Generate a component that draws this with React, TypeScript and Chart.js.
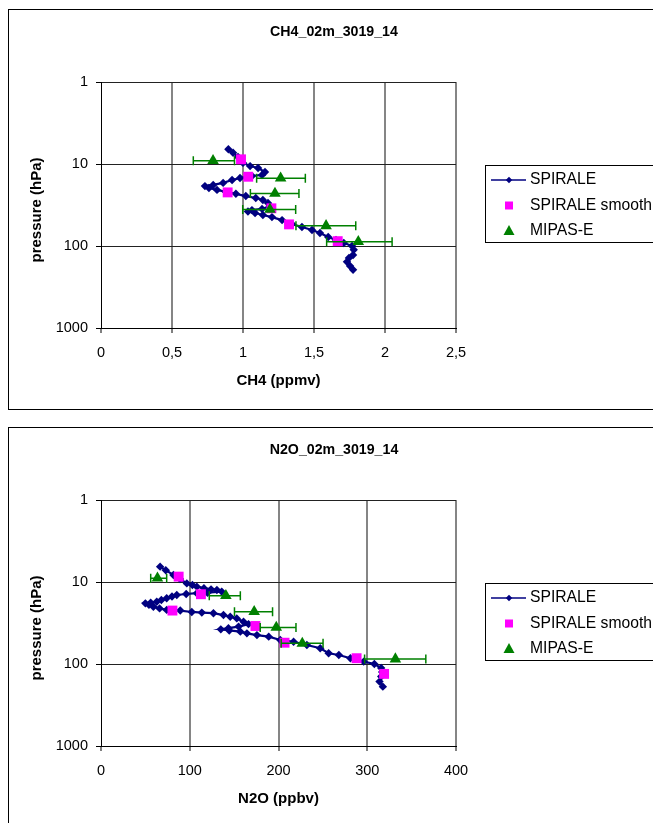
import React, { useEffect, useRef } from 'react';
import { Chart, registerables } from 'chart.js';

Chart.register(...registerables);

const FONT = '"Liberation Sans", Arial, Helvetica, sans-serif';

// ---------- CH4 panel ----------
const ch4SpiraleX = [0.897, 0.93, 0.965, 1.0, 1.05, 1.106, 1.155, 1.134, 1.063, 0.979, 0.923, 0.86, 0.79, 0.732, 0.76, 0.817, 0.88, 0.95, 1.02, 1.09, 1.14, 1.176, 1.19, 1.134, 1.063, 1.035, 1.085, 1.14, 1.204, 1.275, 1.345, 1.415, 1.486, 1.542, 1.6, 1.655, 1.71, 1.768, 1.78, 1.775, 1.746, 1.732, 1.754, 1.775];
const ch4SpiraleP = [6.6, 7.3, 8.2, 9.7, 10.6, 11.2, 12.5, 13.6, 14.0, 14.8, 15.7, 17.0, 18.0, 18.6, 19.6, 20.7, 21.9, 23.1, 24.6, 26.0, 27.5, 29.9, 32.5, 35.3, 36.5, 38.0, 39.6, 41.9, 44.4, 48.3, 54.1, 58.7, 63.7, 69.4, 77.6, 84.4, 91.9, 100, 111, 129, 140, 156, 175, 195];
const ch4SmoothX = [0.986, 1.037, 0.892, 1.2, 1.324, 1.667];
const ch4SmoothP = [8.77, 14.3, 22.2, 34.7, 54.5, 87.3];
const ch4MipasX = [0.789, 1.265, 1.225, 1.19, 1.585, 1.812];
const ch4MipasP = [9.1, 14.9, 22.9, 35.8, 56.7, 88.8];
const ch4MipasLow = [0.65, 1.096, 1.052, 0.998, 1.373, 1.589];
const ch4MipasHigh = [0.94, 1.439, 1.394, 1.371, 1.794, 2.05];
const ch4Ticks = [0, 0.5, 1, 1.5, 2, 2.5];

// ---------- N2O panel ----------
const n2oSpiraleX = [66.6, 73, 81.6, 89, 96.7, 103, 108, 116, 124, 130.6, 136, 120, 108, 96, 85.4, 80, 74, 68, 62.8, 56, 50, 54, 59, 66, 74, 89.3, 102.3, 113.6, 126.7, 138, 145.6, 153, 160.6, 166.2, 155, 143.6, 135, 144.5, 157, 164.4, 175.7, 189, 202, 217, 232, 247, 256.5, 268, 281, 296, 308, 315.7, 316.8, 315.7, 313.8, 317.6];
const n2oSpiraleP = [6.5, 7.2, 8.2, 9.2, 10.4, 10.9, 11.4, 11.9, 12.3, 12.5, 13.1, 13.5, 13.7, 14.0, 14.4, 15.0, 15.8, 16.6, 17.4, 17.9, 18.2, 19.0, 20.0, 21.0, 21.9, 22.3, 23.2, 23.6, 24.0, 25.3, 26.5, 27.8, 30.5, 32.6, 35.0, 36.6, 37.8, 39.0, 40.3, 42.3, 44.4, 46.4, 50.9, 53.5, 58.7, 64.2, 74, 77.6, 85, 93.5, 100, 112, 125, 142, 164, 189];
const n2oSmoothX = [87.5, 112.6, 80.5, 174, 206.8, 288, 319];
const n2oSmoothP = [8.6, 14.1, 22.3, 34.4, 55, 85, 132];
const n2oMipasX = [63.6, 140.7, 172.6, 197.5, 226.8, 331.7];
const n2oMipasP = [9.0, 14.7, 23, 35.8, 56, 87];
const n2oMipasLow = [56, 122, 150.4, 179.4, 203, 297];
const n2oMipasHigh = [74, 157, 193.3, 219.7, 250.2, 366];
const n2oTicks = [0, 100, 200, 300, 400];

const pressureTicks = [1, 10, 100, 1000];
const yTitle = 'pressure (hPa)';
const legendLabels = ['SPIRALE', 'SPIRALE smooth', 'MIPAS-E'];

const NAVY = '#000080';
const MAGENTA = '#FF00FF';
const GREEN = '#008000';

type PanelProps = {
  title: string;
  xTitle: string;
  xTicks: number[];
  sx: number[];
  sp: number[];
  smx: number[];
  smp: number[];
  mx: number[];
  mp: number[];
  mlo: number[];
  mhi: number[];
  top: number;
};

const pts = (xs: number[], ps: number[]) => xs.map((x, i) => ({ x, y: ps[i] }));

function Panel(props: PanelProps) {
  const ref = useRef<HTMLCanvasElement>(null);
  useEffect(() => {
    const canvas = ref.current;
    if (!canvas) return;
    const { title, xTitle, xTicks, sx, sp, smx, smp, mx, mp, mlo, mhi } = props;

    const errPlugin = {
      id: 'errbars',
      afterDatasetDraw(chart: any, args: any) {
        if (args.index !== 1) return;
        const ctx = chart.ctx;
        const xs = chart.scales.x;
        const ys = chart.scales.y;
        ctx.save();
        ctx.strokeStyle = GREEN;
        ctx.lineWidth = 1.5;
        for (let i = 0; i < mp.length; i++) {
          const y = ys.getPixelForValue(mp[i]);
          const x1 = xs.getPixelForValue(mlo[i]);
          const x2 = xs.getPixelForValue(mhi[i]);
          ctx.beginPath();
          ctx.moveTo(x1, y);
          ctx.lineTo(x2, y);
          ctx.moveTo(x1, y - 4.5);
          ctx.lineTo(x1, y + 4.5);
          ctx.moveTo(x2, y - 4.5);
          ctx.lineTo(x2, y + 4.5);
          ctx.stroke();
        }
        ctx.restore();
      },
    };

    const decoPlugin = {
      id: 'deco',
      afterDraw(chart: any) {
        const ctx = chart.ctx;
        const area = chart.chartArea;
        ctx.save();
        ctx.fillStyle = '#000';
        ctx.font = `bold 14.2px ${FONT}`;
        ctx.textAlign = 'center';
        ctx.textBaseline = 'middle';
        ctx.fillText(title, 325, 22);

        // axis titles
        ctx.font = `bold 15px ${FONT}`;
        ctx.fillText(xTitle, (area.left + area.right) / 2, 371);
        ctx.save();
        ctx.translate(28, 200);
        ctx.rotate(-Math.PI / 2);
        ctx.fillText(yTitle, 0, 0);
        ctx.restore();

        // legend box
        ctx.strokeStyle = '#000';
        ctx.lineWidth = 1;
        ctx.strokeRect(476.5, 155.5, 300, 77);
        const rows = [170, 195.5, 221];
        const mxp = 500;
        // SPIRALE line + diamond
        ctx.strokeStyle = NAVY;
        ctx.lineWidth = 1.5;
        ctx.beginPath();
        ctx.moveTo(482, rows[0]);
        ctx.lineTo(517, rows[0]);
        ctx.stroke();
        ctx.fillStyle = NAVY;
        ctx.beginPath();
        ctx.moveTo(mxp, rows[0] - 3.2);
        ctx.lineTo(mxp + 3.2, rows[0]);
        ctx.lineTo(mxp, rows[0] + 3.2);
        ctx.lineTo(mxp - 3.2, rows[0]);
        ctx.closePath();
        ctx.fill();
        // square
        ctx.fillStyle = MAGENTA;
        ctx.fillRect(mxp - 4, rows[1] - 4, 8, 8);
        // triangle
        ctx.fillStyle = GREEN;
        ctx.beginPath();
        ctx.moveTo(mxp, rows[2] - 6);
        ctx.lineTo(mxp + 5.5, rows[2] + 4);
        ctx.lineTo(mxp - 5.5, rows[2] + 4);
        ctx.closePath();
        ctx.fill();

        ctx.fillStyle = '#000';
        ctx.font = `15.7px ${FONT}`;
        ctx.textAlign = 'left';
        legendLabels.forEach((l, i) => ctx.fillText(l, 521, rows[i]));
        ctx.restore();
      },
    };

    const chart = new Chart(canvas, {
      type: 'scatter',
      data: {
        datasets: [
          {
            label: legendLabels[0],
            data: pts(sx, sp),
            showLine: true,
            borderColor: NAVY,
            backgroundColor: NAVY,
            borderWidth: 2.2,
            pointStyle: 'rectRot',
            pointRadius: 4.2,
            pointBorderWidth: 0,
            order: 3,
          },
          {
            label: legendLabels[1],
            data: pts(smx, smp),
            showLine: false,
            borderColor: MAGENTA,
            backgroundColor: MAGENTA,
            pointStyle: 'rect',
            pointRadius: 7,
            pointBorderWidth: 0,
            order: 2,
          },
          {
            label: legendLabels[2],
            data: pts(mx, mp),
            showLine: false,
            borderColor: GREEN,
            backgroundColor: GREEN,
            pointStyle: 'triangle',
            pointRadius: 6.7,
            pointBorderWidth: 0,
            order: 1,
          },
        ],
      } as any,
      options: {
        animation: false,
        responsive: false,
        events: [],
        layout: { padding: { left: 0, top: 72, right: 197, bottom: 0 } },
        plugins: {
          legend: { display: false },
          title: { display: false },
          tooltip: { enabled: false },
        },
        scales: {
          x: {
            type: 'linear',
            min: xTicks[0],
            max: xTicks[xTicks.length - 1],
            afterBuildTicks: (s: any) => {
              s.ticks = xTicks.map((v) => ({ value: v }));
            },
            afterFit: (s: any) => {
              s.height = 80;
            },
            grid: {
              color: (c: any) => (c.tick && c.tick.value === xTicks[0] ? 'rgba(0,0,0,0)' : '#858585'),
              lineWidth: 2,
              tickColor: '#000',
              tickLength: 5,
              tickWidth: 1,
              z: -1,
            },
            border: { color: '#000', width: 1 },
            ticks: {
              font: { family: FONT, size: 14.5 },
              color: '#000',
              padding: 11,
              maxRotation: 0,
              autoSkip: false,
              callback: (v: any) => String(v).replace('.', ','),
            },
            title: { display: false },
          },
          y: {
            type: 'logarithmic',
            reverse: true,
            min: 1,
            max: 1000,
            afterBuildTicks: (s: any) => {
              s.ticks = pressureTicks.map((v) => ({ value: v }));
            },
            afterFit: (s: any) => {
              s.width = 92;
            },
            grid: {
              color: '#222',
              lineWidth: 1,
              tickColor: '#000',
              tickLength: 5,
              tickWidth: 1,
              z: -1,
            },
            border: { color: '#000', width: 1 },
            ticks: {
              font: { family: FONT, size: 14.5 },
              color: '#000',
              padding: 8,
              autoSkip: false,
              callback: (v: any) => String(v),
            },
            title: { display: false },
          },
        },
      } as any,
      plugins: [errPlugin, decoPlugin],
    });
    return () => chart.destroy();
  }, []);

  return (
    <div
      style={{
        position: 'absolute',
        left: 8,
        top: props.top,
        width: 700,
        height: 401,
        border: '1px solid #000',
        boxSizing: 'border-box',
        background: '#fff',
      }}
    >
      <canvas
        ref={ref}
        width={644}
        height={398}
        style={{ position: 'absolute', left: 0, top: 0, width: 644, height: 398, display: 'block' }}
      />
    </div>
  );
}

export default function App() {
  return (
    <div
      style={{
        position: 'fixed',
        left: 0,
        top: 0,
        width: 653,
        height: 823,
        overflow: 'hidden',
        background: '#fff',
      }}
    >
      <Panel
        title="CH4_02m_3019_14"
        xTitle="CH4 (ppmv)"
        xTicks={ch4Ticks}
        sx={ch4SpiraleX}
        sp={ch4SpiraleP}
        smx={ch4SmoothX}
        smp={ch4SmoothP}
        mx={ch4MipasX}
        mp={ch4MipasP}
        mlo={ch4MipasLow}
        mhi={ch4MipasHigh}
        top={9}
      />
      <Panel
        title="N2O_02m_3019_14"
        xTitle="N2O (ppbv)"
        xTicks={n2oTicks}
        sx={n2oSpiraleX}
        sp={n2oSpiraleP}
        smx={n2oSmoothX}
        smp={n2oSmoothP}
        mx={n2oMipasX}
        mp={n2oMipasP}
        mlo={n2oMipasLow}
        mhi={n2oMipasHigh}
        top={427}
      />
    </div>
  );
}
